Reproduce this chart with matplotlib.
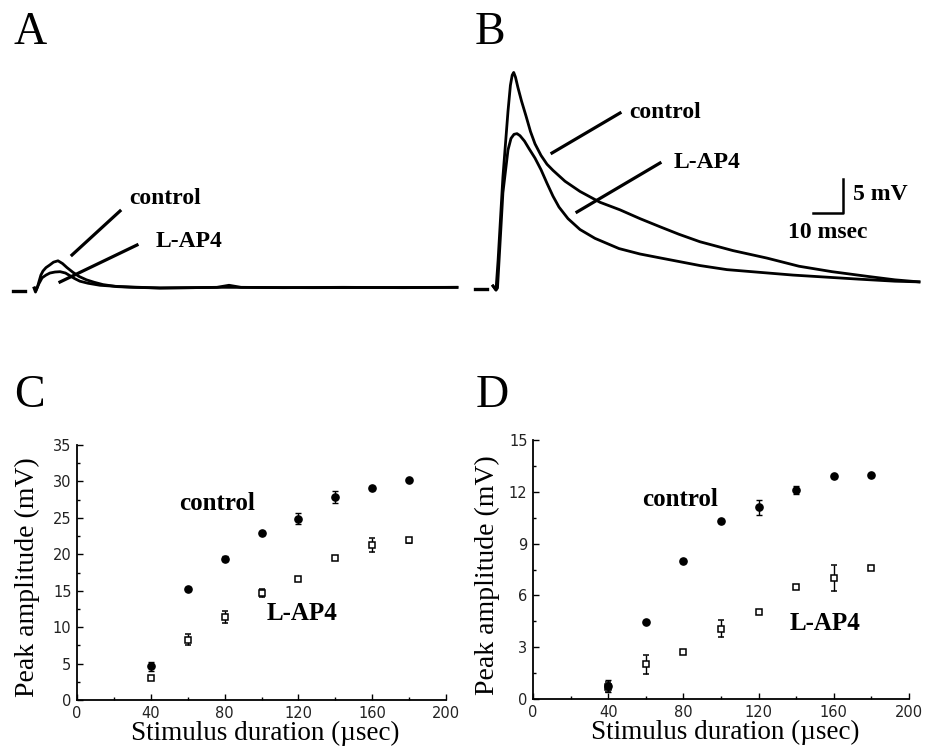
import matplotlib.pyplot as plt
from matplotlib.lines import Line2D
from matplotlib.ticker import MultipleLocator

# --- recorded EPSP traces (time in msec, amplitude in mV) ---
# panel A, short stimulus
a_ctrl_t = [7.0, 7.5, 8.2, 8.7, 9.3, 10.0, 11.0, 12.3, 13.5, 15.0, 16.5, 18.0, 20.0, 22.0, 24.5,
            27.0, 30.0, 34.7, 40, 49, 60, 68, 72, 76, 90, 110, 130, 148]
a_ctrl_v = [0.0, -0.6, 0.2, 1.0, 1.9, 2.5, 3.0, 3.4, 3.8, 4.0, 3.6, 3.0, 2.3, 1.7, 1.2,
            0.85, 0.5, 0.2, 0.1, 0.0, 0.05, 0.1, 0.4, 0.1, 0.05, 0.1, 0.05, 0.1]
a_lap4_t = [7.3, 7.7, 8.6, 9.7, 11.0, 12.3, 14.0, 15.7, 17.5, 19.0, 20.5, 22.3, 25.0, 29.0, 34.0,
            39.0, 49, 70, 100, 148]
a_lap4_v = [0.0, -0.3, 0.6, 1.5, 1.9, 2.2, 2.35, 2.4, 2.2, 1.8, 1.4, 1.0, 0.7, 0.4, 0.25,
            0.15, 0.0, 0.1, 0.05, 0.1]

# panel B, long stimulus
b_ctrl_t = [6.0, 7.0, 7.7, 9.3, 11.0, 11.8, 12.4, 12.9, 13.5, 14.3, 15.5, 17.0, 18.5, 20.0, 22.0,
            24.0, 26.0, 30.0, 35.0, 41.7, 48.3, 55.0, 61.7, 68.0, 75.0, 86.0, 97.3, 108, 119, 131, 140, 148]
b_ctrl_v = [0.3, -0.3, 4.1, 16.3, 26.0, 29.8, 31.3, 31.7, 31.0, 29.5, 27.5, 25.3, 23.0, 21.2, 19.5,
            18.2, 17.3, 15.7, 14.2, 12.6, 11.5, 10.2, 9.0, 7.9, 6.8, 5.5, 4.4, 3.2, 2.4, 1.7, 1.2, 0.9]
b_lap4_t = [6.0, 7.0, 7.5, 9.3, 11.0, 12.0, 13.0, 14.0, 15.0, 16.5, 18.0, 20.0, 22.0, 24.0, 26.0,
            28.0, 31.0, 35.0, 40.0, 48.0, 55.0, 62.0, 75.0, 84, 95, 106, 117, 128, 140, 148]
b_lap4_v = [0.3, -0.3, 0.0, 14.0, 20.3, 22.0, 22.6, 22.7, 22.4, 21.6, 20.5, 19.1, 17.4, 15.4, 13.5,
            11.9, 10.2, 8.6, 7.3, 5.8, 5.0, 4.4, 3.3, 2.7, 2.3, 1.9, 1.6, 1.3, 1.0, 0.9]

# baseline marker before each trace
base_t = [0, 4]
a_base_v = [-0.45, -0.45]
b_base_v = [-0.15, -0.15]

# --- peak amplitude vs stimulus duration ---
duration = [40, 60, 80, 100, 120, 140, 160, 180]
c_ctrl = [4.6, 15.2, 19.4, 22.9, 24.9, 27.9, 29.1, 30.2]
c_ctrl_err = [0.6, 0.3, 0.3, 0.3, 0.8, 0.8, 0.3, 0.2]
c_lap4 = [3.0, 8.3, 11.4, 14.7, 16.6, 19.5, 21.3, 21.9]
c_lap4_err = [0.2, 0.7, 0.8, 0.5, 0.2, 0.3, 1.0, 0.3]

d_ctrl = [0.75, 4.48, 8.0, 10.3, 11.1, 12.1, 12.9, 12.95]
d_ctrl_err = [0.35, 0.1, 0.1, 0.1, 0.45, 0.25, 0.1, 0.1]
d_lap4 = [0.7, 2.0, 2.7, 4.07, 5.04, 6.5, 7.0, 7.6]
d_lap4_err = [0.3, 0.55, 0.1, 0.5, 0.1, 0.1, 0.75, 0.1]

serif = "Liberation Serif"
W, H = 926, 748


def fx(x):
    return x / W


def fy(y):
    return 1 - y / H


fig = plt.figure(figsize=(W / 100, H / 100), dpi=100)


def pline(x0, y0, x1, y1, lw=2.3):
    fig.add_artist(Line2D([fx(x0), fx(x1)], [fy(y0), fy(y1)], color="black",
                          lw=lw, transform=fig.transFigure))


def ptext(x, y, s, size=17, weight="bold"):
    fig.text(fx(x), fy(y), s, ha="center", va="center", fontsize=size,
             family=serif, weight=weight)


# trace panels: 3 px per msec, 6.8 px per mV, baseline at y=288 px
def trace_axes(x_left, width, x_zero):
    ax = fig.add_axes([fx(x_left), fy(310), width / W, 310 / H])
    ax.set_xlim((x_left - x_zero) / 3, (x_left + width - x_zero) / 3)
    ax.set_ylim((288 - 310) / 6.8, 288 / 6.8)
    ax.axis("off")
    return ax


trace_style = dict(color="black", lw=2.0, solid_joinstyle="round")

axA = trace_axes(0, 463, 13)
axA.plot(a_ctrl_t, a_ctrl_v, **trace_style)
axA.plot(a_lap4_t, a_lap4_v, **trace_style)
axA.plot(base_t, a_base_v, color="black", lw=2.4)

axB = trace_axes(463, W - 463, 475)
axB.plot(b_ctrl_t, b_ctrl_v, **trace_style)
axB.plot(b_lap4_t, b_lap4_v, **trace_style)
axB.plot(base_t, b_base_v, color="black", lw=2.4)

# scale bar 5 mV / 10 msec
axB.plot([112.7, 122.7, 122.7], [11.0, 11.0, 16.0], color="black", lw=1.8)

# pointer lines and labels for traces
pline(72, 255, 120, 211)
pline(60, 282, 137, 245)
ptext(165, 198, "control")
ptext(189, 242, "L-AP4")
pline(552, 153, 620, 113)
pline(577, 212, 660, 163)
ptext(665, 112, "control")
ptext(707, 163, "L-AP4")
ptext(880, 195, "5 mV")
ptext(828, 232, "10 msec")


def scatter_axes(rect, ymax, ystep, ctrl, ctrl_err, lap4, lap4_err, ylab_x):
    ax = fig.add_axes(rect)
    ax.errorbar(duration, lap4, yerr=lap4_err, fmt="s", color="black", mfc="white",
                mew=1.1, ms=4.6, capsize=2.5, elinewidth=1, capthick=1)
    ax.errorbar(duration, ctrl, yerr=ctrl_err, fmt="o", color="black", ms=5.2,
                capsize=2.5, elinewidth=1, capthick=1)
    ax.set_xlim(0, 200)
    ax.set_ylim(0, ymax)
    ax.set_xticks([0, 40, 80, 120, 160, 200])
    ax.set_yticks(range(0, ymax + 1, ystep))
    ax.xaxis.set_minor_locator(MultipleLocator(20))
    ax.yaxis.set_minor_locator(MultipleLocator(ystep / 2))
    for s in ("top", "right"):
        ax.spines[s].set_visible(False)
    for s in ("left", "bottom"):
        ax.spines[s].set_linewidth(1.3)
    ax.tick_params(which="both", direction="in", width=1, labelsize=10.5, pad=4,
                   labelcolor="#222222")
    ax.tick_params(which="major", length=4)
    ax.tick_params(which="minor", length=2)
    ax.set_xlabel("Stimulus duration (\u00b5sec)", family=serif, fontsize=19.5)
    ax.set_ylabel("Peak amplitude (mV)", family=serif, fontsize=20)
    ax.xaxis.label.set_va("center")
    ax.yaxis.label.set_va("center")
    ax.xaxis.set_label_coords(0.51, -0.13)
    ax.yaxis.set_label_coords(ylab_x, 0.48)
    return ax


axC = scatter_axes([fx(77), fy(700), 369 / W, 255 / H], 35, 5,
                   c_ctrl, c_ctrl_err, c_lap4, c_lap4_err, -0.135)
axD = scatter_axes([fx(533), fy(699), 376 / W, 259 / H], 15, 3,
                   d_ctrl, d_ctrl_err, d_lap4, d_lap4_err, -0.122)

ptext(217, 503, "control", 18)
ptext(302, 613, "L-AP4", 18)
ptext(680, 500, "control", 18)
ptext(825, 623, "L-AP4", 18)

# panel letters
for x, y, s in [(30, 33, "A"), (490, 33, "B"), (29, 396, "C"), (492, 396, "D")]:
    ptext(x, y, s, 33, "normal")

fig.savefig("out.png", dpi=100)
